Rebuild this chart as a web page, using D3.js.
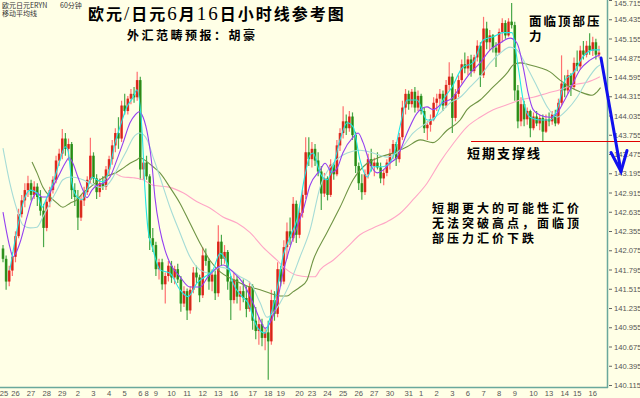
<!DOCTYPE html>
<html>
<head>
<meta charset="utf-8">
<script src="https://cdn.jsdelivr.net/npm/d3@7"></script>
<style>
  html, body { margin: 0; padding: 0; background: #ffffe6; }
  svg { display: block; }
</style>
</head>
<body>
<svg id="chart" width="640" height="398"></svg>
<script>
// EUR/JPY hourly bars (oldest first)
const opens = [
142.10,141.95,141.62,141.78,141.98,142.28,142.60,142.80,142.95,143.05,
142.88,143.00,142.85,142.65,142.40,142.78,142.95,143.10,143.38,143.48,
143.70,143.55,143.62,142.95,142.85,142.55,142.80,142.92,143.10,143.45,
143.12,142.92,143.05,143.00,143.25,143.40,143.60,143.78,143.70,144.18,
144.10,144.28,144.35,144.30,144.55,143.25,143.35,143.15,142.25,142.15,
141.80,141.90,141.58,141.70,141.85,141.68,141.80,141.65,141.30,141.48,
141.20,141.50,141.75,141.68,141.42,142.00,141.92,141.62,141.72,141.45,
142.20,141.95,142.05,141.62,141.35,141.65,141.40,141.48,141.38,141.22,
141.55,141.05,140.90,141.00,140.80,140.88,140.75,141.35,141.15,141.80,
141.62,142.12,142.35,142.25,142.75,142.30,142.62,142.88,143.50,143.40,
143.55,143.38,143.22,142.90,143.12,142.88,143.32,143.18,143.60,143.78,
143.95,143.85,144.02,143.75,143.30,143.05,142.92,143.18,143.40,143.30,
143.35,143.28,143.12,143.20,143.35,143.48,143.62,143.40,143.72,144.15,
144.35,144.20,144.38,144.15,144.32,144.10,143.85,143.90,143.98,144.22,
144.28,144.35,144.18,144.48,144.60,144.00,144.35,144.55,144.78,144.72,
144.85,144.68,144.88,145.05,144.62,145.30,145.10,145.20,145.02,144.95,
145.25,145.38,145.20,145.40,145.35,144.40,143.95,144.20,143.98,144.10,
143.85,144.02,143.92,144.00,143.80,143.98,143.95,144.05,143.92,144.22,
144.50,144.40,144.62,144.45,144.80,144.75,144.98,144.92,145.05,144.98,
145.10,144.92
];
const highs = [
142.15,142.00,141.85,142.05,142.35,142.68,142.88,143.05,143.16,143.10,
143.08,143.05,142.95,142.75,142.85,143.00,143.15,143.45,143.55,143.84,
143.78,143.70,143.65,143.05,142.95,142.88,143.00,143.15,143.71,143.50,
143.18,143.12,143.15,143.30,143.45,143.68,143.85,144.01,144.25,144.35,
144.32,144.42,144.45,144.67,144.60,143.40,143.45,143.18,142.40,142.20,
141.95,141.95,141.75,141.92,141.92,141.85,141.88,141.70,141.55,141.52,
141.55,141.83,141.85,141.72,142.12,142.10,141.95,141.80,141.78,142.44,
142.30,142.15,142.08,141.70,141.75,141.70,141.55,141.65,141.55,141.62,
141.58,141.25,141.10,141.08,140.95,141.05,141.50,141.48,141.90,141.85,
142.22,142.48,142.55,142.85,142.80,142.70,142.95,143.72,143.72,143.65,
143.62,143.50,143.30,143.20,143.15,143.40,143.35,143.68,143.85,144.17,
144.05,144.10,144.08,143.80,143.35,143.18,143.25,143.48,143.55,143.42,
143.50,143.35,143.25,143.40,143.55,143.68,143.65,143.78,144.25,144.42,
144.40,144.42,144.45,144.40,144.35,144.15,143.95,144.05,144.30,144.35,
144.42,144.40,144.55,144.81,144.65,144.42,144.62,144.85,144.95,144.90,
144.92,144.92,145.13,145.10,145.47,145.40,145.28,145.22,145.10,145.30,
145.45,145.42,145.45,145.67,145.40,144.48,144.30,144.25,144.15,144.12,
144.08,144.10,144.05,144.05,144.05,144.08,144.10,144.12,144.28,144.91,
144.62,144.70,144.65,144.88,144.98,145.05,145.12,145.12,145.23,145.18,
145.15,145.05
];
const lows = [
141.90,141.50,141.55,141.70,141.90,142.25,142.55,142.70,142.85,142.80,
142.82,142.72,142.58,142.12,142.35,142.70,142.90,143.05,143.30,143.40,
143.45,143.38,142.82,142.72,142.37,142.50,142.72,142.88,143.05,143.05,
142.82,142.85,142.95,142.95,143.15,143.32,143.50,143.55,143.65,144.05,
144.05,144.20,144.22,144.25,143.10,143.10,143.10,142.08,142.05,141.70,
141.65,141.50,141.30,141.62,141.60,141.58,141.60,141.18,141.25,141.06,
141.15,141.45,141.60,141.32,141.38,141.85,141.50,141.48,141.35,141.40,
141.85,141.88,141.50,141.06,141.30,141.30,141.20,141.32,141.10,141.18,
140.92,140.78,140.70,140.68,140.62,140.19,140.70,141.05,141.10,141.55,
141.58,141.95,142.15,142.20,142.18,142.25,142.55,142.82,143.30,143.28,
143.30,143.15,142.66,142.85,142.80,142.85,143.10,143.15,143.52,143.70,
143.75,143.80,143.68,143.20,142.95,142.81,142.88,143.12,143.22,143.15,
143.25,143.05,143.02,143.15,143.25,143.40,143.30,143.35,143.68,144.05,
144.12,144.15,144.08,144.10,144.05,143.78,143.68,143.80,143.95,144.10,
144.18,144.10,144.15,144.40,143.78,143.95,144.30,144.50,144.65,144.62,
144.60,144.65,144.82,144.45,144.58,145.00,144.98,144.95,144.74,144.92,
145.10,145.15,145.18,145.30,144.25,143.85,143.88,143.88,143.90,143.72,
143.82,143.88,143.82,143.65,143.78,143.88,143.90,143.88,143.90,144.18,
144.30,144.35,144.32,144.42,144.68,144.70,144.85,144.88,144.92,144.90,
144.85,144.88
];
const closes = [
141.95,141.62,141.78,141.98,142.28,142.60,142.80,142.95,143.05,142.88,
143.00,142.85,142.65,142.40,142.78,142.95,143.10,143.38,143.48,143.70,
143.55,143.62,142.95,142.85,142.55,142.80,142.92,143.10,143.45,143.12,
142.92,143.05,143.00,143.25,143.40,143.60,143.78,143.70,144.18,144.10,
144.28,144.35,144.30,144.55,143.25,143.35,143.15,142.25,142.15,141.80,
141.90,141.58,141.70,141.85,141.68,141.80,141.65,141.30,141.48,141.20,
141.50,141.75,141.68,141.42,142.00,141.92,141.62,141.72,141.45,142.20,
141.95,142.05,141.62,141.35,141.65,141.40,141.48,141.38,141.22,141.55,
141.05,140.90,141.00,140.80,140.88,140.75,141.35,141.15,141.80,141.62,
142.12,142.35,142.25,142.75,142.30,142.62,142.88,143.50,143.40,143.55,
143.38,143.22,142.90,143.12,142.88,143.32,143.18,143.60,143.78,143.95,
143.85,144.02,143.75,143.30,143.05,142.92,143.18,143.40,143.30,143.35,
143.28,143.12,143.20,143.35,143.48,143.62,143.40,143.72,144.15,144.35,
144.20,144.38,144.15,144.32,144.10,143.85,143.90,143.98,144.22,144.28,
144.35,144.18,144.48,144.60,144.00,144.35,144.55,144.78,144.72,144.85,
144.68,144.88,145.05,144.62,145.30,145.10,145.20,145.02,144.95,145.25,
145.38,145.20,145.40,145.35,144.40,143.95,144.20,143.98,144.10,143.85,
144.02,143.92,144.00,143.80,143.98,143.95,144.05,143.92,144.22,144.50,
144.40,144.62,144.45,144.80,144.75,144.98,144.92,145.05,144.98,145.10,
144.92,144.95
];

// moving averages, [bar, price]
const maFast = [[2.2,141.79],[4.5,142.37],[6.4,142.76],[8.7,142.95],[10.9,142.91],[12.5,142.70],[14.1,142.85],[16,143.05],[18.3,143.39],[19.9,143.58],[20.8,143.53],[22.1,143.05],[23.7,142.85],[25.3,142.81],[26.9,142.95],[28.5,143.14],[30.1,143.10],[32.1,143.07],[34.3,143.29],[35.9,143.64],[37.5,143.87],[39.7,144.16],[41.7,144.30],[42.9,144.41],[44.6,143.78],[45.5,142.95],[46.5,142.37],[48.1,142.08],[50.3,141.79],[53.5,141.74],[56.7,141.50],[59.3,141.40],[62.2,141.60],[64.7,141.69],[67.3,141.79],[69.6,142.03],[71.8,141.89],[73.7,141.60],[76.6,141.40],[78.5,141.31],[81.4,140.96],[84,140.87],[85.6,141.10],[87.8,141.50],[89.7,141.98],[92,142.27],[94.2,142.52],[96.8,143.17],[98.4,143.46],[99.4,143.49],[101.6,143.20],[103.8,143.10],[105.8,143.29],[108,143.68],[110.3,143.93],[112.2,143.87],[114.4,143.39],[116.7,143.14],[118.6,143.29],[121.8,143.29],[125,143.43],[127.2,143.87],[129.5,144.26],[132.7,144.26],[135.9,143.97],[137.8,143.97],[141,144.26],[143.9,144.45],[147.4,144.74],[150.6,144.80],[153.8,145.13],[157.1,145.18],[160.3,145.24],[163.1,145.24],[165.1,144.74],[166.7,144.26],[168.9,144.01],[172.1,143.97],[175.3,143.97],[177.9,144.16],[180.1,144.55],[182.7,144.65],[185.9,144.89],[189.1,144.99],[191.3,144.99]];
const maMid = [[0,142.63],[2.2,142.12],[3.2,141.98],[5.4,142.18],[7.7,142.56],[9.3,142.81],[10.9,142.91],[12.5,142.85],[14.1,142.85],[16,143.00],[18.3,143.20],[19.9,143.34],[21.2,143.42],[22.4,143.34],[24,143.14],[25.6,142.95],[26.9,142.84],[28.5,142.95],[30.1,143.02],[32.1,143.05],[34.3,143.14],[36.5,143.39],[38.5,143.64],[40.7,143.93],[42.3,144.04],[43.6,144.09],[44.9,144.01],[46.5,143.72],[47.8,143.29],[48.7,142.84],[50.3,142.37],[51.9,142.08],[53.5,141.89],[56.7,141.69],[59.9,141.54],[63.1,141.54],[65.7,141.69],[68.6,141.82],[70.5,141.86],[73.7,141.76],[76.9,141.60],[80.1,141.31],[82.4,141.06],[84,140.94],[85.6,141.02],[87.8,141.31],[89.7,141.74],[92,142.12],[94.2,142.41],[96.2,142.66],[98.4,143.02],[101.6,143.24],[103.2,143.34],[105.4,143.21],[107.1,143.27],[108.9,143.49],[112.2,143.72],[113.8,143.78],[115.4,143.64],[117.6,143.34],[119.9,143.20],[121.8,143.24],[124,143.34],[126.3,143.43],[129.5,143.78],[132.7,144.07],[135.9,144.16],[137.8,144.12],[141,144.22],[144.2,144.30],[146.5,144.45],[149.7,144.65],[152.9,144.80],[156.1,144.99],[159.3,145.09],[162.5,145.16],[164.7,145.09],[166.7,144.74],[168.3,144.36],[169.9,144.12],[172.1,144.04],[175.3,144.01],[177.6,144.07],[179.5,144.22],[181.7,144.41],[184.9,144.70],[188.1,144.84],[191.3,144.92]];
const maSlow = [[0,143.56],[2.2,143.05],[4.5,142.66],[6.4,142.44],[8.7,142.40],[10.9,142.41],[12.8,142.56],[15.1,142.76],[17.3,142.95],[19.2,143.10],[21.5,143.14],[23.7,143.13],[25.6,143.10],[27.9,143.05],[31.1,142.99],[33.3,143.02],[35.3,143.14],[37.5,143.34],[39.7,143.53],[41.7,143.71],[43.9,143.78],[46.2,143.68],[48.1,143.43],[50.3,143.14],[53.5,142.70],[56.7,142.33],[59.9,141.98],[63.1,141.79],[66.3,141.74],[69.6,141.83],[72.8,141.79],[76,141.69],[79.2,141.60],[82.4,141.31],[84.6,141.10],[86.5,141.16],[88.8,141.31],[92,141.60],[95.2,141.98],[98.4,142.37],[101.6,142.99],[105.8,143.34],[110.3,143.49],[114.4,143.53],[118.6,143.49],[123.1,143.43],[127.2,143.53],[131.4,143.78],[135.9,143.93],[140.1,144.07],[143.3,144.22],[146.5,144.30],[149.7,144.45],[152.9,144.60],[156.1,144.80],[159.3,144.94],[162.5,145.03],[164.7,144.99],[167.9,144.74],[171.2,144.45],[174.4,144.16],[177.6,144.01],[180.8,144.12],[184,144.30],[187.2,144.55],[190.4,144.74],[191.3,144.77]];
const maLong = [[9.3,143.36],[10.9,143.20],[12.8,142.99],[15.1,142.85],[17.3,142.76],[19.2,142.70],[21.5,142.76],[23.7,142.81],[25.6,142.91],[27.9,142.99],[30.1,143.07],[32.1,143.13],[34.3,143.17],[36.5,143.21],[38.5,143.27],[40.7,143.34],[42.9,143.39],[43.9,143.42],[46.2,143.36],[48.1,143.29],[50.3,143.20],[53.5,142.99],[56.7,142.76],[59.9,142.47],[63.1,142.18],[66.3,141.93],[69.6,141.76],[72.8,141.67],[76,141.60],[79.2,141.54],[82.4,141.50],[85.6,141.45],[88.8,141.41],[91,141.41],[92.9,141.47],[95.2,141.54],[97.4,141.64],[99.4,141.93],[103.8,142.33],[108,142.70],[112.2,143.10],[116.7,143.34],[120.8,143.43],[125,143.49],[129.5,143.58],[133.7,143.68],[137.8,143.64],[142.3,143.82],[146.5,143.97],[148.7,144.12],[152.9,144.26],[157.1,144.45],[161.5,144.65],[163.5,144.77],[165.7,144.80],[168.9,144.77],[172.1,144.73],[175.3,144.67],[178.5,144.55],[181.7,144.45],[184.9,144.38],[188.8,144.33],[190.4,144.38],[191.5,144.44]];
const maLonger = [[35.9,143.20],[38.5,143.14],[41.7,143.13],[44.9,143.10],[48.1,143.02],[53.5,142.99],[57.7,142.91],[62.2,142.78],[66.3,142.69],[70.5,142.56],[75,142.47],[79.2,142.33],[83.3,142.12],[87.8,141.93],[91,141.79],[94.2,141.71],[97.4,141.69],[100,141.69],[101.6,141.79],[105.8,141.93],[110.3,142.12],[114.4,142.30],[118.6,142.40],[123.1,142.49],[127.2,142.61],[131.4,142.81],[135.9,143.05],[140.1,143.36],[144.2,143.62],[148.7,143.87],[152.9,144.01],[157.1,144.12],[161.5,144.19],[165.7,144.26],[169.9,144.30],[174.4,144.36],[178.5,144.41],[182.7,144.48],[187.2,144.52],[191.3,144.60]];

// session dates and the bar each one starts on
const dayLabels = ["25","26","27","28","29","2","3","4","5","6","8","9","10","11","12","13","16","17","18","19","20","23","24","25","26","27","30","31","1","2","3","6","7","8","9","10","13","14","15","16"];
const dayStartBars = [0,4,9,14,19,24,29,34,39,44,46,49,54,59,64,69,74,80,85,89,95,99,104,109,114,119,124,130,134,139,144,149,154,159,164,170,175,180,184,189];

// price axis labels
const priceTicks = ["145.715","145.435","145.155","144.875","144.595","144.315","144.035","143.755","143.475","143.195","142.915","142.635","142.355","142.075","141.795","141.515","141.235","140.955","140.675","140.395","140.115"];

// annotations
const supportLevel = 143.66;
const forecastFrom = 144.87;
const forecastTo = 143.22;

const W = 640, H = 398;
const plotRight = 607, plotBottom = 387;
const svg = d3.select("#chart");

svg.append("rect").attr("width", W).attr("height", H).attr("fill", "#ffffe6");

const n = closes.length;
const x = d3.scaleLinear().domain([0, n - 1]).range([3, 599]);
const y = d3.scaleLinear().domain([140.115, 145.715]).range([385, 0]);

const upColor = "#f01414", downColor = "#139a13";
const isUp = i => closes[i] >= opens[i];

// candles
const candles = svg.append("g").attr("class", "candles");
const bars = d3.range(n);
candles.selectAll("line.wick").data(bars).join("line")
  .attr("class", "wick")
  .attr("x1", i => x(i)).attr("x2", i => x(i))
  .attr("y1", i => y(highs[i])).attr("y2", i => y(lows[i]))
  .attr("stroke", i => isUp(i) ? "#ff7070" : "#4aa84a")
  .attr("stroke-width", 1.2);
candles.selectAll("rect.body").data(bars).join("rect")
  .attr("class", "body")
  .attr("x", i => x(i) - 1.3)
  .attr("width", 2.6)
  .attr("y", i => y(Math.max(opens[i], closes[i])))
  .attr("height", i => Math.max(1, Math.abs(y(opens[i]) - y(closes[i]))))
  .attr("fill", i => isUp(i) ? upColor : downColor)
  .attr("fill-opacity", 0.88);
// body cores, darkened where neighbouring candles meet
candles.selectAll("line.core").data(bars).join("line")
  .attr("class", "core")
  .attr("x1", i => x(i)).attr("x2", i => x(i))
  .attr("y1", i => y(Math.max(opens[i], closes[i])))
  .attr("y2", i => y(Math.min(opens[i], closes[i])))
  .attr("stroke", "#6e4a08")
  .attr("stroke-opacity", 0.45)
  .attr("stroke-width", 0.8);

// moving averages
const line = d3.line().x(d => x(d[0])).y(d => y(d[1])).curve(d3.curveMonotoneX);
const maSpecs = [
  [maLonger, "#ffa6c6"],
  [maLong, "#6f9444"],
  [maSlow, "#a6dcd6"],
  [maMid, "#9440f0"],
  [maFast, "#22e6e6"]
];
svg.append("g").selectAll("path").data(maSpecs).join("path")
  .attr("d", d => line(d[0]))
  .attr("fill", "none")
  .attr("stroke", d => d[1])
  .attr("stroke-width", 1.1);

// frame
svg.append("line").attr("x1", plotRight + 0.5).attr("x2", plotRight + 0.5)
  .attr("y1", 0).attr("y2", plotBottom + 1).attr("stroke", "#6aa89c").attr("stroke-width", 1.5);
svg.append("line").attr("x1", 0).attr("x2", plotRight + 1)
  .attr("y1", plotBottom + 0.5).attr("y2", plotBottom + 0.5).attr("stroke", "#6aa89c").attr("stroke-width", 1.5);

// price axis
const yAxis = d3.axisRight(y)
  .tickValues(priceTicks.map(Number))
  .tickFormat((d, i) => priceTicks[i])
  .tickSize(3).tickPadding(2);
const ya = svg.append("g").attr("transform", `translate(${plotRight + 2},0)`).call(yAxis);
ya.select(".domain").remove();
ya.selectAll(".tick line").attr("stroke", "#666");
ya.selectAll(".tick text").attr("fill", "#555").attr("dy", "0.34em")
  .style("font-family", "'Liberation Sans', Arial, sans-serif").style("font-size", "7.6px");
ya.select(".tick text").attr("dy", "0.75em");

// date labels
svg.append("g").selectAll("text").data(dayLabels).join("text")
  .attr("x", (d, i) => Math.max(4, x(dayStartBars[i])))
  .attr("y", 396)
  .attr("text-anchor", "middle")
  .attr("fill", "#555")
  .style("font-family", "'Liberation Sans', Arial, sans-serif")
  .style("font-size", "7.6px")
  .text(d => d);

// support line
const supportStart = 150;
svg.append("line")
  .attr("x1", x(supportStart)).attr("x2", W)
  .attr("y1", Math.round(y(supportLevel)) + 0.5).attr("y2", Math.round(y(supportLevel)) + 0.5)
  .attr("stroke", "#e00000").attr("stroke-width", 1);

// forecast arrow
const ax0 = x(n - 1) + 2, ay0 = y(forecastFrom);
const ax1 = plotRight + 14, ay1 = y(forecastTo);
const arrow = svg.append("g").attr("stroke", "#1010ee").attr("stroke-width", 3)
  .attr("fill", "none").attr("stroke-linecap", "round");
arrow.append("line").attr("x1", ax0).attr("y1", ay0).attr("x2", ax1).attr("y2", ay1);
arrow.append("path").attr("d", `M${ax1 - 10},${ay1 - 19}L${ax1},${ay1}L${ax1 + 6},${ay1 - 21}`);

// texts
const cjk = "'Noto Sans CJK SC', 'Noto Sans', sans-serif";
function label(lines, px, py, size, weight, spacing, lineGap) {
  const t = svg.append("text").attr("x", px).attr("y", py)
    .style("font-family", cjk).style("font-size", size + "px")
    .style("font-weight", weight).style("letter-spacing", spacing + "px")
    .attr("fill", "#000");
  [].concat(lines).forEach((s, k) => {
    t.append("tspan").attr("x", px).attr("dy", k ? lineGap : 0).text(s);
  });
  return t;
}
label("欧元日元ERYN", 2, 7.5, 7, 400, 0).attr("fill", "#333");
label("60分钟", 60, 7.5, 7, 400, 0).attr("fill", "#333");
label("移动平均线", 2, 16, 7, 400, 0).attr("fill", "#333");

const title = svg.append("text").attr("x", 88).attr("y", 20)
  .style("font-family", cjk).style("font-size", "16px").style("font-weight", 700)
  .style("letter-spacing", "2px").attr("fill", "#000");
const serif = "'Liberation Serif', 'DejaVu Serif', serif";
[["欧元", 0], ["/", 1], ["日元", 0], ["6", 1], ["月", 0], ["16", 1], ["日小时线参考图", 0]].forEach(([t, s]) => {
  const ts = title.append("tspan").text(t);
  if (s) ts.style("font-family", serif).style("font-weight", 400).style("font-size", "19px");
});

label("外汇范畴预报：胡豪", 127, 40, 12, 700, 2.5);
label(["面临顶部压", "力"], 529, 26, 12.5, 700, 2, 15);
label("短期支撑线", 467, 158, 13, 700, 2);
label(["短期更大的可能性汇价", "无法突破高点，面临顶", "部压力汇价下跌"], 432, 213, 12, 700, 3, 15);
</script>
</body>
</html>
